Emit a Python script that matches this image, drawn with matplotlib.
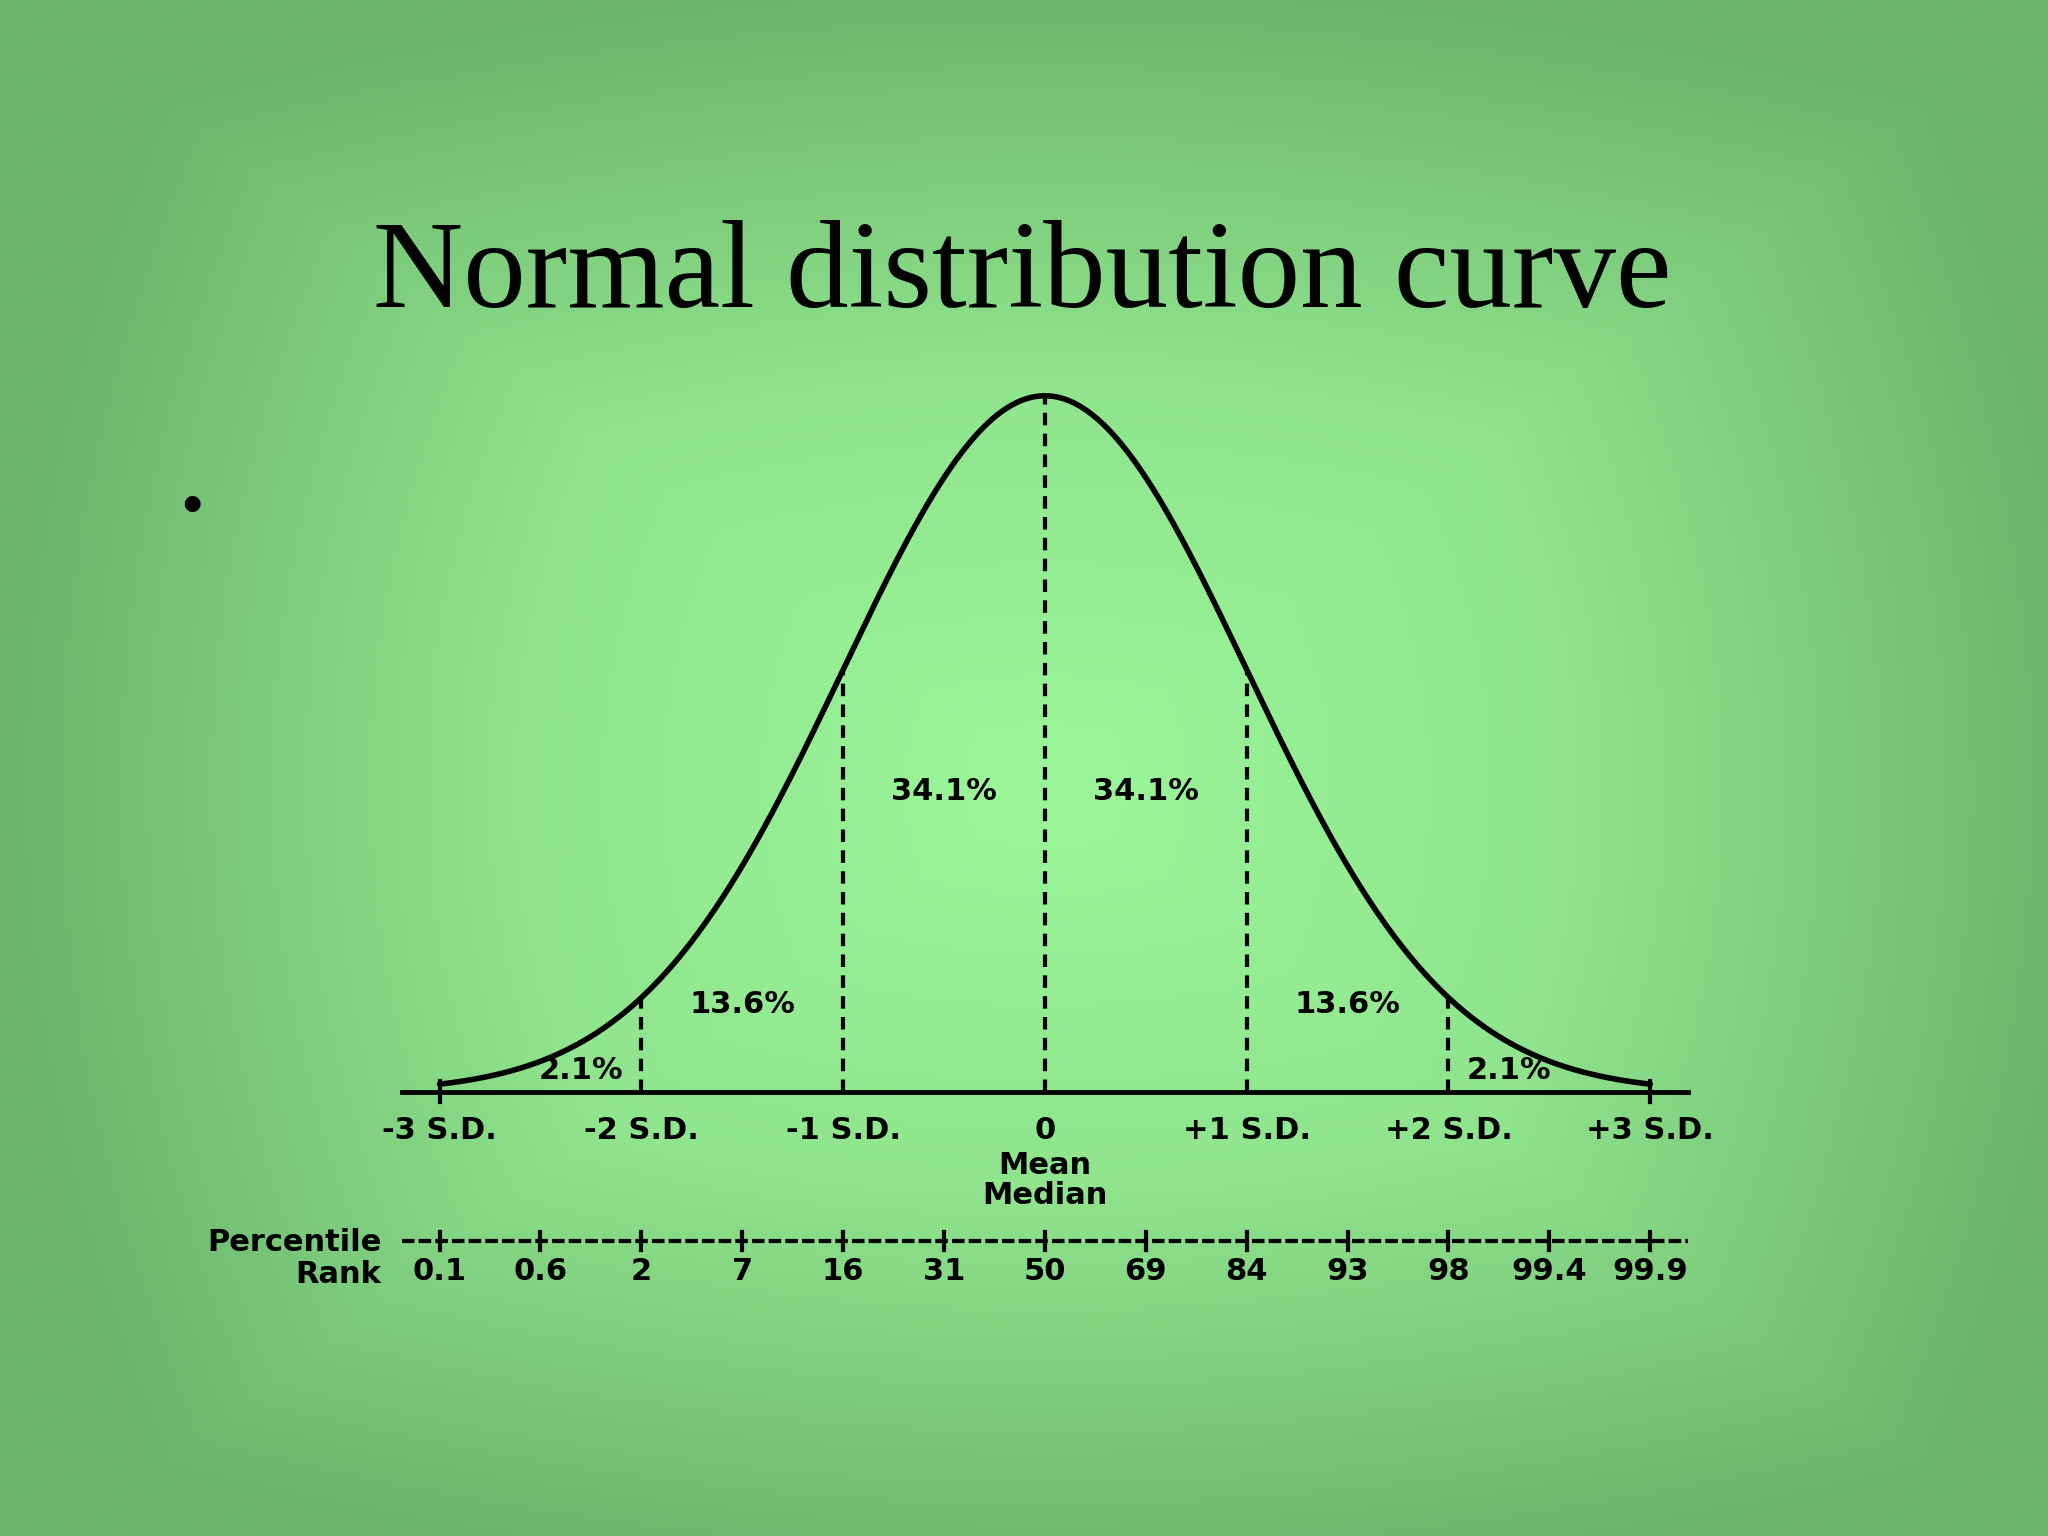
import numpy as np
import matplotlib
matplotlib.use("Agg")
import matplotlib.pyplot as plt
from matplotlib.colors import LinearSegmentedColormap

title = "Normal distribution curve"
sd_positions = [-3, -2, -1, 0, 1, 2, 3]
sd_labels = ["-3 S.D.", "-2 S.D.", "-1 S.D.", "0", "+1 S.D.", "+2 S.D.", "+3 S.D."]
area_pos = [-2.3, -1.5, -0.5, 0.5, 1.5, 2.3]
area_labels = ["2.1%", "13.6%", "34.1%", "34.1%", "13.6%", "2.1%"]
pct_positions = [-3, -2.5, -2, -1.5, -1, -0.5, 0, 0.5, 1, 1.5, 2, 2.5, 3]
pct_labels = ["0.1", "0.6", "2", "7", "16", "31", "50", "69", "84", "93", "98", "99.4", "99.9"]

W, H = 1568, 1176
fig = plt.figure(figsize=(20.48, 15.36), dpi=100)

# background
bg = fig.add_axes([0, 0, 1, 1])
yy, xx = np.mgrid[0:H:2, 0:W:2]
dx = np.abs(xx - 800) / 800
dy = np.abs(yy - 600) / 620
d = np.maximum(dx, dy) * 0.6 + np.sqrt(dx**2 + dy**2) * 0.4
d = np.clip(d, 0, 1)
cmap = LinearSegmentedColormap.from_list("g", ["#9cf79a", "#8fe48d", "#6cb46c"])
bg.imshow(d, cmap=cmap, extent=[0, W, H, 0], aspect="auto", interpolation="bilinear")
bg.set_xlim(0, W); bg.set_ylim(H, 0); bg.axis("off")
bg.text(783, 212, title, ha="center", va="center", fontsize=90,
        family="Liberation Serif", color="black")
bg.text(147, 390, "•", ha="center", va="center", fontsize=48,
        family="Liberation Serif", color="black")

# chart axes
px = 154.5
py = 1336.0
left_px, right_px, top_px, bot_px = 280, 1330, 290, 1010
ax = fig.add_axes([left_px / W, 1 - bot_px / H, (right_px - left_px) / W, (bot_px - top_px) / H])
ax.set_xlim((left_px - 800) / px, (right_px - 800) / px)
ax.set_ylim(-(bot_px - 836) / py, (836 - top_px) / py)
ax.axis("off")

pdf = lambda x: np.exp(-x**2 / 2) / np.sqrt(2 * np.pi)
x = np.linspace(-3, 3, 600)
ax.plot(x, pdf(x), color="black", lw=4, solid_capstyle="round")
ax.plot([(308 - 800) / px, (1292 - 800) / px], [0, 0], color="black", lw=3.5)
for s in sd_positions:
    if s in (-3, 3):
        ax.plot([s, s], [-0.006, 0.006], color="black", lw=3)
        continue
    ax.plot([s, s], [0, pdf(s)], color="black", lw=3, ls=(0, (3, 2)))
fs = 22
for s, l in zip(sd_positions, sd_labels):
    ax.text(s, -0.014, l, ha="center", va="top", fontsize=fs, fontweight="bold")
ax.text(0, -0.034, "Mean\nMedian", ha="center", va="top", fontsize=fs, fontweight="bold", linespacing=1.05)
ay = {0.5: 0.172, 1.5: 0.05, 2.3: 0.012}
for p, l in zip(area_pos, area_labels):
    ax.text(p, ay[abs(p)], l, ha="center", va="center", fontsize=fs, fontweight="bold")

yp = -(950 - 836) / py
ax.plot([(308 - 800) / px, (1292 - 800) / px], [yp, yp], color="black", lw=3, ls=(0, (3, 1)))
for p, l in zip(pct_positions, pct_labels):
    ax.plot([p, p], [yp - 0.005, yp + 0.005], color="black", lw=3)
    ax.text(p, yp - 0.009, l, ha="center", va="top", fontsize=fs, fontweight="bold")
ax.text((292 - 800) / px, yp - 0.010, "Percentile\nRank", ha="right", va="center",
        fontsize=fs, fontweight="bold", linespacing=1.15, multialignment="right")

fig.savefig("out.png", dpi=100)
